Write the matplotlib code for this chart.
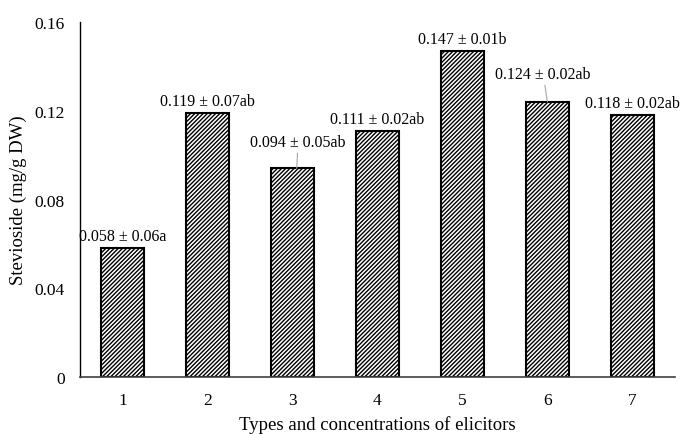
import matplotlib.pyplot as plt

plt.rcParams["font.family"] = ["Liberation Serif", "DejaVu Serif"]
plt.rcParams["hatch.linewidth"] = 1.0
plt.rcParams["hatch.color"] = "black"

groups = ["1", "2", "3", "4", "5", "6", "7"]
stevioside = [0.058, 0.119, 0.094, 0.111, 0.147, 0.124, 0.118]
labels = [
    "0.058 \u00b1 0.06a",
    "0.119 \u00b1 0.07ab",
    "0.094 \u00b1 0.05ab",
    "0.111 \u00b1 0.02ab",
    "0.147 \u00b1 0.01b",
    "0.124 \u00b1 0.02ab",
    "0.118 \u00b1 0.02ab",
]
y_ticks = [0, 0.04, 0.08, 0.12, 0.16]
y_tick_labels = ["0", "0.04", "0.08", "0.12", "0.16"]

fig = plt.figure(figsize=(6.81, 4.35), dpi=100)
ax = fig.add_axes([0.1175, 0.131, 0.8735, 0.816])

x = list(range(len(groups)))
ax.bar(x, stevioside, width=0.51, color="white", edgecolor="black",
       linewidth=1.5, hatch="////////", zorder=2)

for i, (val, text) in enumerate(zip(stevioside, labels)):
    if i == 2:
        ax.annotate(text, xy=(i + 0.05, val), xytext=(1, 13), textcoords="offset points",
                    ha="center", va="bottom", fontsize=11.5,
                    arrowprops=dict(arrowstyle="-", color="#a6a6a6", lw=0.8,
                                    shrinkA=0, shrinkB=0))
    elif i == 5:
        ax.annotate(text, xy=(i, val), xytext=(-3, 14), textcoords="offset points",
                    ha="center", va="bottom", fontsize=11.5,
                    arrowprops=dict(arrowstyle="-", color="#a6a6a6", lw=0.8,
                                    shrinkA=0, shrinkB=0))
    else:
        ax.annotate(text, xy=(i, val), xytext=(0, 3), textcoords="offset points",
                    ha="center", va="bottom", fontsize=11.5)

ax.set_xlim(-0.5, len(groups) - 0.5)
ax.set_ylim(0, 0.16)
ax.set_xticks(x)
ax.set_xticklabels(groups, fontsize=12.5)
ax.set_yticks(y_ticks)
ax.set_yticklabels(y_tick_labels, fontsize=12.5)
ax.tick_params(axis="x", length=0, pad=11)
ax.tick_params(axis="y", length=0, pad=11)

ax.spines["top"].set_visible(False)
ax.spines["right"].set_visible(False)
ax.spines["left"].set_linewidth(1.0)
ax.spines["bottom"].set_linewidth(1.2)
ax.spines["bottom"].set_color("#404040")

ax.set_xlabel("Types and concentrations of elicitors", fontsize=13.5, labelpad=5)
ax.set_ylabel("Stevioside (mg/g DW)", fontsize=13.5, labelpad=5)

fig.savefig("out.png", dpi=100)
